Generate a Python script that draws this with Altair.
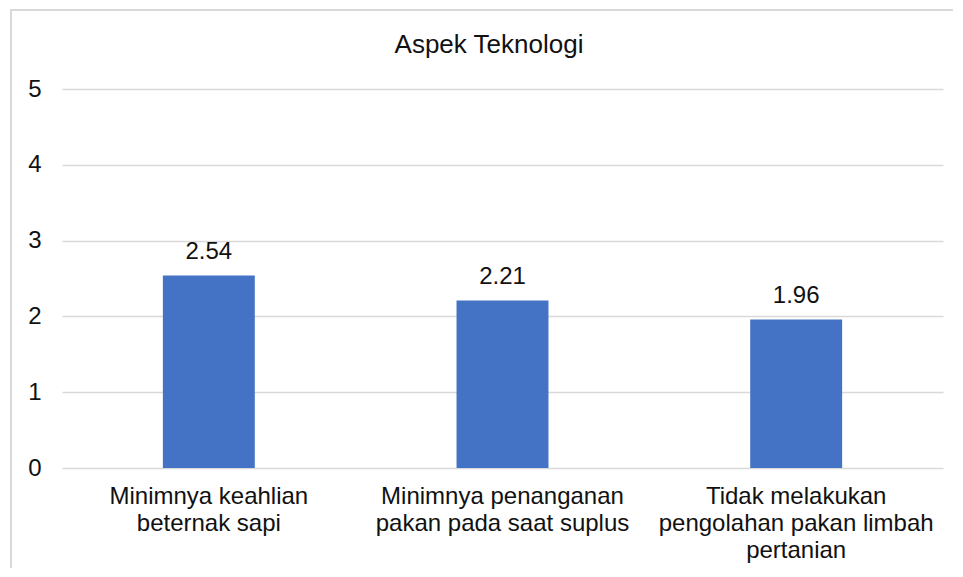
import altair as alt
import pandas as pd

categories = [
    "Minimnya keahlian|beternak sapi",
    "Minimnya penanganan|pakan pada saat suplus",
    "Tidak melakukan|pengolahan pakan limbah|pertanian",
]
values = [2.54, 2.21, 1.96]
y_ticks = [0, 1, 2, 3, 4, 5]
title_text = "Aspek Teknologi"

FONT = "Liberation Sans"
W, H = 881, 379

df = pd.DataFrame({"cat": categories, "val": values, "lbl": [f"{v:.2f}" for v in values]})

x_axis = alt.Axis(
    labelExpr="split(datum.label, '|')",
    labelAngle=0,
    labelFont=FONT,
    labelFontSize=24,
    labelColor="#111111",
    labelLineHeight=27,
    labelPadding=16,
    labelBaseline="top",
    labelLimit=0,
    ticks=False,
    domain=False,
    grid=False,
)
x_enc = alt.X(
    "cat:N",
    sort=categories,
    title=None,
    scale=alt.Scale(paddingInner=0.687, paddingOuter=0.3435),
    axis=x_axis,
)
y_enc = alt.Y(
    "val:Q",
    title=None,
    scale=alt.Scale(domain=[0, 5], nice=False, zero=True),
    axis=alt.Axis(
        values=y_ticks,
        format="d",
        labelFont=FONT,
        labelFontSize=24,
        labelColor="#111111",
        labelPadding=21,
        ticks=False,
        domain=False,
        grid=True,
        gridColor="#D9D9D9",
        gridWidth=1.5,
    ),
)

base = alt.Chart(df)
bars = base.mark_bar(color="#4472C4").encode(x=x_enc, y=y_enc)
labels = base.mark_text(
    font=FONT, fontSize=24, color="#111111", baseline="alphabetic", dy=-16
).encode(x=alt.X("cat:N", sort=categories, axis=x_axis, title=None), y=alt.Y("val:Q"), text="lbl:N")

one = alt.Chart(pd.DataFrame({"a": [0]}))
title = one.mark_text(
    text=title_text, font=FONT, fontSize=26, color="#111111", baseline="middle", align="center"
).encode(x=alt.value(427), y=alt.value(-44))
border = one.mark_rect(fill="transparent", fillOpacity=0, stroke="#D9D9D9", strokeWidth=2).encode(
    x=alt.value(-51), x2=alt.value(920), y=alt.value(-79), y2=alt.value(520)
)

chart = (
    alt.layer(border, bars, labels, title)
    .properties(
        width=W,
        height=H,
        padding={"left": 54, "top": 81, "right": 10, "bottom": 100},
        autosize=alt.AutoSizeParams(type="none"),
        view=alt.ViewBackground(stroke="transparent", strokeWidth=0),
    )
    .configure_view(strokeWidth=0, stroke="transparent")
    .configure(background="white")
)

chart.save("out.html", embed_options={"renderer": "svg", "actions": False})
